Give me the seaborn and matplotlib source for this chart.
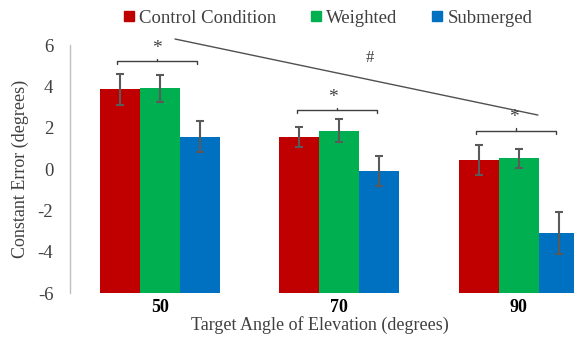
import matplotlib
matplotlib.use("Agg")
import matplotlib.pyplot as plt
import seaborn as sns
import pandas as pd
import numpy as np
from matplotlib.lines import Line2D

angles = ["50", "70", "90"]
conditions = ["Control Condition", "Weighted", "Submerged"]
control = [3.85, 1.55, 0.43]
weighted = [3.90, 1.85, 0.52]
submerged = [1.55, -0.10, -3.10]
control_err = [0.75, 0.50, 0.72]
weighted_err = [0.65, 0.55, 0.45]
submerged_err = [0.75, 0.72, 1.00]
colors = ["#C00000", "#00B050", "#0070C0"]
y_ticks = [-6, -4, -2, 0, 2, 4, 6]

sns.set_theme(style="white")
plt.rcParams["font.family"] = ["Liberation Serif", "DejaVu Serif"]

rows = []
for cond, vals, errs in zip(conditions, [control, weighted, submerged],
                            [control_err, weighted_err, submerged_err]):
    for a, v, e in zip(angles, vals, errs):
        rows.append({"Angle": a, "Condition": cond, "Value": v, "Err": e})
df = pd.DataFrame(rows)

fig = plt.figure(figsize=(5.74, 3.40), dpi=100)
ax = fig.add_axes([70 / 574, 47 / 340, 538.5 / 574, 248 / 340])

sns.barplot(data=df, x="Angle", y="Value", hue="Condition", order=angles,
            hue_order=conditions, palette=colors, errorbar=None,
            width=0.667, saturation=1, ax=ax, legend=False, linewidth=0)

base = y_ticks[0]
# bars are drawn from the axis floor (Excel-style crossing at -6)
for cond, patches in zip(conditions, ax.containers):
    sub = df[df["Condition"] == cond].set_index("Angle").loc[angles]
    xs = []
    for p in patches:
        h = p.get_height()
        p.set_y(base)
        p.set_height(h - base)
        xs.append(p.get_x() + p.get_width() / 2)
    ax.errorbar(xs, sub["Value"].values, yerr=sub["Err"].values, fmt="none",
                ecolor="#5a5a5a", elinewidth=1.5, capsize=2.8, capthick=1.5,
                zorder=5)

ax.set_ylim(-6, 6)
ax.set_xlim(-0.5, 2.5)
ax.set_yticks(y_ticks)
ax.set_yticklabels([str(t) for t in y_ticks], fontsize=13.5, color="#404040")
ax.set_xticks(range(len(angles)))
ax.set_xticklabels(angles, fontsize=13, fontweight="bold", color="black")
ax.tick_params(axis="both", length=0, pad=4)
ax.tick_params(axis="y", pad=12)
for s in ["top", "right", "bottom"]:
    ax.spines[s].set_visible(False)
ax.spines["left"].set_color("#bfbfbf")
ax.spines["left"].set_linewidth(1.0)
ax.set_ylabel("Constant Error (degrees)", fontsize=13, color="#404040", labelpad=6)
ax.set_xlabel("")
fig.text(320 / 574, 1 - 325 / 340, "Target Angle of Elevation (degrees)",
         ha="center", va="center", fontsize=13, color="#404040")

# significance annotations
gray = "#404040"
def bracket(x0, x1, xm, y, drop, rise):
    ax.plot([x0, x0, x1, x1], [y - drop, y, y, y - drop], color=gray, lw=1.0, clip_on=False)
    ax.plot([xm, xm], [y, y + rise], color=gray, lw=1.0, clip_on=False)

bracket(-0.238, 0.207, -0.015, 5.22, 0.15, 0.12)
bracket(0.765, 1.21, 0.988, 2.85, 0.15, 0.12)
bracket(1.762, 2.208, 1.985, 1.84, 0.15, 0.12)
for xa, ya in [(-0.015, 5.85), (0.965, 3.48), (1.974, 2.47)]:
    ax.text(xa, ya, "*", ha="center", va="center", fontsize=14, color=gray)
ax.plot([0.085, 2.107], [6.29, 2.61], color="#505050", lw=1.0, clip_on=False)
ax.text(1.17, 5.37, "#", ha="center", va="center", fontsize=12, color=gray)

handles = [Line2D([], [], marker="s", ls="none", color=c, markersize=7) for c in colors]
fig.legend(handles, conditions, loc="center", bbox_to_anchor=(326 / 574, 1 - 18 / 340),
           ncol=3, frameon=False, fontsize=13.5, handletextpad=0.05,
           columnspacing=1.6, handlelength=1.0, labelcolor="#404040")

fig.savefig("out.png", dpi=100)
